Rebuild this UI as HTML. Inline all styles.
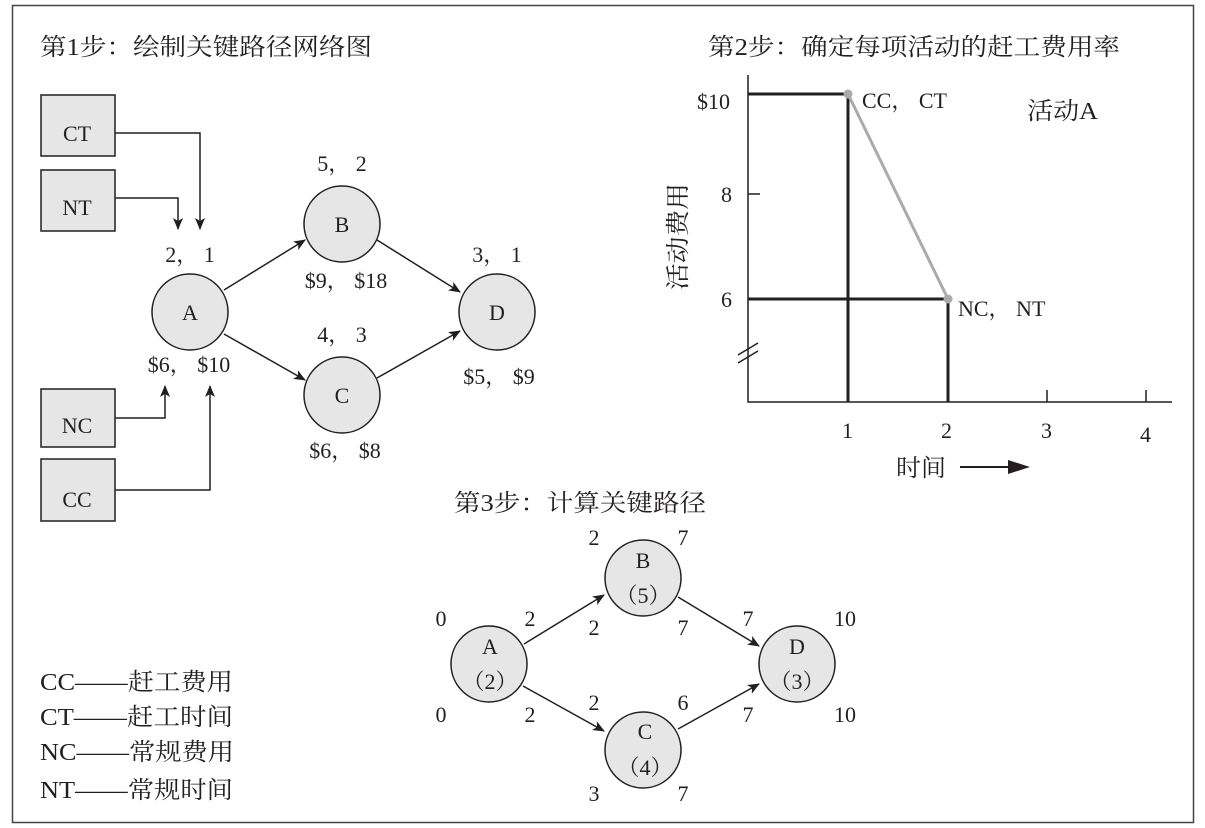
<!DOCTYPE html>
<html><head><meta charset="utf-8"><style>
html,body{margin:0;padding:0;background:#fff}
svg{display:block}
text{font-family:"Liberation Serif","Noto Serif CJK SC",serif;fill:#231f20}
</style></head><body>
<svg width="1205" height="828" viewBox="0 0 1205 828" xmlns="http://www.w3.org/2000/svg">
<defs>
<marker id="ar" markerWidth="12" markerHeight="10" refX="11" refY="5" orient="auto" markerUnits="userSpaceOnUse"><path d="M0,0 L12,5 L0,10 L3,5 z" fill="#231f20"/></marker>
</defs>
<rect x="12.5" y="5.5" width="1181" height="817" fill="#fff" stroke="#444" stroke-width="1.5"/>

<!-- Step 1 -->
<text x="40" y="55" font-size="24" textLength="332" lengthAdjust="spacingAndGlyphs">第1步：绘制关键路径网络图</text>
<g fill="#e6e6e6" stroke="#231f20" stroke-width="1.5">
<rect x="41" y="95" width="74" height="61"/>
<rect x="41" y="170" width="74" height="61"/>
<rect x="41" y="389" width="74" height="58"/>
<rect x="41" y="459" width="74" height="62"/>
</g>
<g font-size="22" text-anchor="middle">
<text x="77" y="141">CT</text><text x="77" y="215">NT</text>
<text x="77" y="433">NC</text><text x="77" y="507">CC</text>
</g>
<g fill="none" stroke="#231f20" stroke-width="1.5">
<path d="M115,133 H200 V229" marker-end="url(#ar)"/>
<path d="M115,198 H178 V229" marker-end="url(#ar)"/>
<path d="M115,418 H165 V386" marker-end="url(#ar)"/>
<path d="M115,490 H210 V386" marker-end="url(#ar)"/>
<path d="M224,290 L305,240" marker-end="url(#ar)"/>
<path d="M224,334 L305,380" marker-end="url(#ar)"/>
<path d="M377,240 L460,292" marker-end="url(#ar)"/>
<path d="M377,378 L460,331" marker-end="url(#ar)"/>
</g>
<g fill="#e6e6e6" stroke="#231f20" stroke-width="1.5">
<circle cx="190" cy="312" r="38"/><circle cx="342" cy="224" r="38"/>
<circle cx="342" cy="395" r="38"/><circle cx="497" cy="312" r="38"/>
</g>
<g font-size="22" text-anchor="middle">
<text x="190" y="320">A</text><text x="342" y="232">B</text>
<text x="342" y="403">C</text><text x="497" y="320">D</text>
<text x="190" y="262">2， 1</text>
<text x="342" y="171">5， 2</text>
<text x="497" y="262">3， 1</text>
<text x="342" y="342">4， 3</text>
<text x="189" y="372">$6， $10</text>
<text x="346" y="288">$9， $18</text>
<text x="499" y="384">$5， $9</text>
<text x="345" y="458">$6， $8</text>
</g>

<!-- Step 2 -->
<text x="708" y="55" font-size="24" textLength="412" lengthAdjust="spacingAndGlyphs">第2步：确定每项活动的赶工费用率</text>
<g stroke="#231f20" fill="none">
<path d="M748,75 V402 H1172" stroke-width="1.5"/>
<path d="M748,194 H760" stroke-width="1.5"/>
<path d="M1047,402 V390 M1146,402 V390" stroke-width="1.5"/>
<path d="M738,355 L758,343 M738,363 L758,351" stroke-width="1.5"/>
<path d="M748,94 H848 V402 M748,299 H948 V402" stroke-width="3"/>
</g>
<line x1="848" y1="94" x2="948" y2="299" stroke="#aaa" stroke-width="3"/>
<circle cx="848" cy="94" r="4.5" fill="#aaa"/><circle cx="948" cy="299" r="4.5" fill="#aaa"/>
<g font-size="22">
<text x="697" y="109">$10</text>
<text x="721" y="202">8</text>
<text x="721" y="307">6</text>
<text x="862" y="108">CC， CT</text>
<text x="958" y="316">NC， NT</text>
<text x="1027" y="119" font-size="24" textLength="71" lengthAdjust="spacingAndGlyphs">活动A</text>
<text x="842" y="438">1</text><text x="941" y="438">2</text>
<text x="1041" y="438">3</text><text x="1140" y="442">4</text>
<text x="896" y="476" font-size="24" textLength="50" lengthAdjust="spacingAndGlyphs">时间</text>
<text transform="translate(686,290) rotate(-90)" font-size="24" textLength="107" lengthAdjust="spacingAndGlyphs">活动费用</text>
</g>
<path d="M960,467 H1015" stroke="#231f20" stroke-width="2"/>
<path d="M1030,467 L1008,460 L1008,474 z" fill="#231f20"/>

<!-- Step 3 -->
<text x="454" y="511" font-size="24" textLength="252" lengthAdjust="spacingAndGlyphs">第3步：计算关键路径</text>
<g fill="none" stroke="#231f20" stroke-width="1.5">
<path d="M524,644 L604,595" marker-end="url(#ar)"/>
<path d="M523,686 L604,731" marker-end="url(#ar)"/>
<path d="M678,597 L759,646" marker-end="url(#ar)"/>
<path d="M678,729 L759,684" marker-end="url(#ar)"/>
</g>
<g fill="#e6e6e6" stroke="#231f20" stroke-width="1.5">
<circle cx="489" cy="664" r="38"/><circle cx="643" cy="578" r="38"/>
<circle cx="643" cy="750" r="38"/><circle cx="797" cy="664" r="38"/>
</g>
<g font-size="22" text-anchor="middle">
<text x="490" y="654">A</text><text x="490" y="689">（2）</text>
<text x="643" y="568">B</text><text x="643" y="603">（5）</text>
<text x="645" y="739">C</text><text x="645" y="775">（4）</text>
<text x="797" y="654">D</text><text x="797" y="689">（3）</text>
<text x="441" y="626">0</text><text x="441" y="722">0</text>
<text x="530" y="626">2</text><text x="530" y="722">2</text>
<text x="594" y="545">2</text><text x="683" y="545">7</text>
<text x="594" y="635">2</text><text x="683" y="635">7</text>
<text x="594" y="710">2</text><text x="683" y="710">6</text>
<text x="594" y="801">3</text><text x="683" y="801">7</text>
<text x="748" y="626">7</text><text x="845" y="626">10</text>
<text x="748" y="722">7</text><text x="845" y="722">10</text>
</g>

<!-- Legend -->
<g font-size="24">
<text x="40" y="690" textLength="193" lengthAdjust="spacingAndGlyphs">CC——赶工费用</text>
<text x="40" y="725" textLength="193" lengthAdjust="spacingAndGlyphs">CT——赶工时间</text>
<text x="40" y="760" textLength="194" lengthAdjust="spacingAndGlyphs">NC——常规费用</text>
<text x="40" y="798" textLength="193" lengthAdjust="spacingAndGlyphs">NT——常规时间</text>
</g>
</svg>
</body></html>
